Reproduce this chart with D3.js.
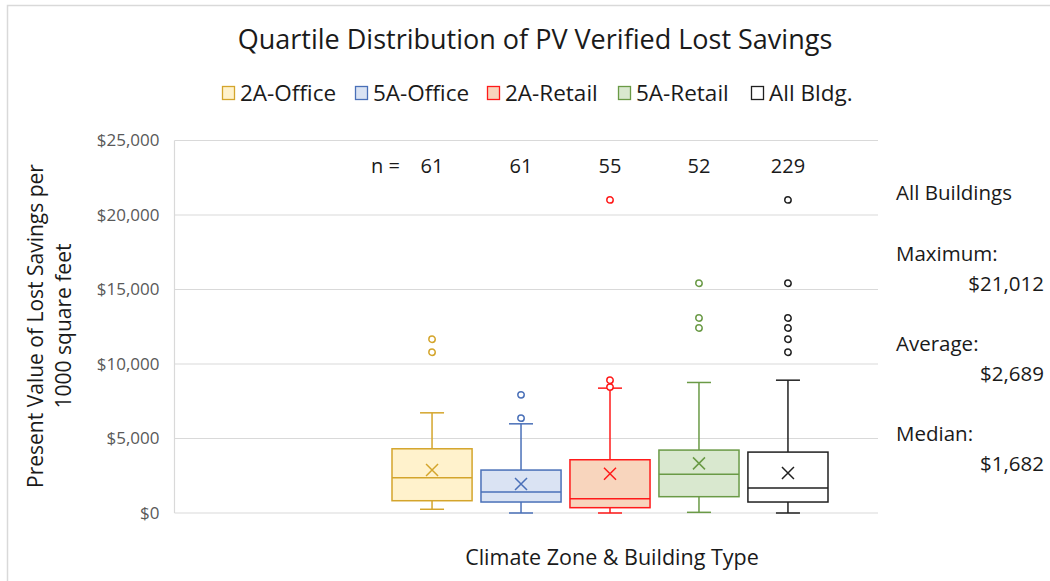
<!DOCTYPE html>
<html>
<head>
<meta charset="utf-8">
<script src="https://cdn.jsdelivr.net/npm/d3@7"></script>
<style>
  body { margin: 0; background: #fff; }
  svg { display: block; font-family: "Open Sans", Lato, sans-serif; }
</style>
</head>
<body>
<div id="chart"></div>
<script>
// series (one box per climate zone & building type)
const series = ['2A-Office', '5A-Office', '2A-Retail', '5A-Retail', 'All Bldg.'];
const counts = [61, 61, 55, 52, 229];
// box stats
const whiskerLow = [250, 0, 0, 45, 0];
const q1 = [824, 737, 357, 1095, 737];
const median = [2366, 1408, 960, 2594, 1682];
const q3 = [4310, 2882, 3574, 4223, 4088];
const whiskerHigh = [6723, 5985, 8380, 8760, 8914];
const means = [2882, 1944, 2637, 3331, 2689];
const outliers = [
  [11662, 10790],
  [7930, 6367],
  [21012, 8914, 8450],
  [15416, 13091, 12420],
  [21012, 15416, 13091, 12420, 11662, 10790]
];
const strokeColors = ['#d4a52c', '#4a70b8', '#ff1a1a', '#6a9a46', '#202020'];
const fillColors = ['#fff2cc', '#dae3f3', '#f8d5bd', '#d9e8cf', '#ffffff'];
const yTicks = [0, 5000, 10000, 15000, 20000, 25000];
const summaryLabels = ['Maximum:', 'Average:', 'Median:'];
const summaryValues = [21012, 2689, 1682];

const width = 1050, height = 581;
const svg = d3.select('#chart').append('svg')
  .attr('width', width)
  .attr('height', height);

// outer chart border
svg.append('rect')
  .attr('x', 7.5).attr('y', 5.5)
  .attr('width', 1100).attr('height', 700)
  .attr('fill', 'none').attr('stroke', '#d9d9d9').attr('stroke-width', 1.5);

const plot = {left: 174.5, right: 878, top: 140.5, bottom: 513};

const y = d3.scaleLinear().domain([0, 25000]).range([plot.bottom, plot.top]);
const x = d3.scaleBand().domain(series).range([392, 828]).paddingInner(0.1).paddingOuter(0);
const money = d3.format('$,');

// gridlines
svg.append('g')
  .selectAll('line')
  .data(yTicks)
  .join('line')
  .attr('x1', plot.left).attr('x2', plot.right)
  .attr('y1', d => y(d)).attr('y2', d => y(d))
  .attr('stroke', '#d9d9d9').attr('stroke-width', 1.2);

// left axis line
svg.append('line')
  .attr('x1', plot.left).attr('x2', plot.left)
  .attr('y1', plot.top).attr('y2', plot.bottom)
  .attr('stroke', '#d9d9d9').attr('stroke-width', 1.2);

// y tick labels
const yAxis = svg.append('g')
  .attr('transform', `translate(${plot.left},0)`)
  .call(d3.axisLeft(y).tickValues(yTicks).tickFormat(money).tickSize(0).tickPadding(15));
yAxis.select('.domain').remove();
yAxis.selectAll('text')
  .attr('font-size', 17).attr('fill', '#595959')
  .attr('font-family', '"Open Sans", sans-serif');

// title
svg.append('text')
  .attr('x', 535).attr('y', 49)
  .attr('text-anchor', 'middle')
  .attr('font-size', 27).attr('fill', '#1a1a1a')
  .text('Quartile Distribution of PV Verified Lost Savings');

// legend
const legendX = [222, 355, 487, 618, 751];
const legend = svg.append('g').selectAll('g')
  .data(series)
  .join('g')
  .attr('transform', (d, i) => `translate(${legendX[i]},86)`);
legend.append('rect')
  .attr('x', 0.5).attr('y', 0.5).attr('width', 12).attr('height', 13)
  .attr('fill', (d, i) => fillColors[i])
  .attr('stroke', (d, i) => strokeColors[i]).attr('stroke-width', 1.3);
legend.append('text')
  .attr('x', 18).attr('y', 15)
  .attr('font-size', 22.5).attr('fill', '#1a1a1a')
  .text(d => d);

// n = labels
svg.append('text')
  .attr('x', 371).attr('y', 173)
  .attr('font-size', 20).attr('fill', '#1a1a1a')
  .text('n =');
svg.append('g').selectAll('text')
  .data(counts)
  .join('text')
  .attr('x', (d, i) => x(series[i]) + x.bandwidth() / 2)
  .attr('y', 173)
  .attr('text-anchor', 'middle')
  .attr('font-size', 20).attr('fill', '#1a1a1a')
  .text(d => d);

// boxes
const bw = x.bandwidth();
const capW = bw * 0.3;
const boxes = svg.append('g').selectAll('g')
  .data(series)
  .join('g')
  .attr('transform', d => `translate(${x(d) + bw / 2},0)`);

boxes.each(function(d, i) {
  const g = d3.select(this);
  const c = strokeColors[i];
  // whiskers
  g.append('line')
    .attr('x1', 0).attr('x2', 0)
    .attr('y1', y(q3[i])).attr('y2', y(whiskerHigh[i]))
    .attr('stroke', c).attr('stroke-width', 1.5);
  g.append('line')
    .attr('x1', 0).attr('x2', 0)
    .attr('y1', y(q1[i])).attr('y2', y(whiskerLow[i]))
    .attr('stroke', c).attr('stroke-width', 1.5);
  g.selectAll('line.cap')
    .data([whiskerHigh[i], whiskerLow[i]])
    .join('line')
    .attr('class', 'cap')
    .attr('x1', -capW / 2).attr('x2', capW / 2)
    .attr('y1', v => y(v)).attr('y2', v => y(v))
    .attr('stroke', c).attr('stroke-width', 1.5);
  // box
  g.append('rect')
    .attr('x', -bw / 2).attr('width', bw)
    .attr('y', y(q3[i])).attr('height', y(q1[i]) - y(q3[i]))
    .attr('fill', fillColors[i])
    .attr('stroke', c).attr('stroke-width', 1.5);
  // median
  g.append('line')
    .attr('x1', -bw / 2).attr('x2', bw / 2)
    .attr('y1', y(median[i])).attr('y2', y(median[i]))
    .attr('stroke', c).attr('stroke-width', 1.5);
  // mean marker
  const m = y(means[i]), s = 6;
  g.append('path')
    .attr('d', `M${-s},${m - s}L${s},${m + s}M${s},${m - s}L${-s},${m + s}`)
    .attr('stroke', c).attr('stroke-width', 1.5).attr('fill', 'none');
  // outliers
  g.selectAll('circle')
    .data(outliers[i])
    .join('circle')
    .attr('cx', 0).attr('cy', v => y(v))
    .attr('r', 3.2)
    .attr('fill', '#fff')
    .attr('stroke', c).attr('stroke-width', 1.5);
});

// y axis title
const yTitle = svg.append('text')
  .attr('transform', 'translate(43,326) rotate(-90)')
  .attr('text-anchor', 'middle')
  .attr('font-size', 21).attr('fill', '#1a1a1a');
yTitle.append('tspan').attr('x', 0).attr('dy', 0).text('Present Value of Lost Savings per');
yTitle.append('tspan').attr('x', 0).attr('dy', 28).text('1000 square feet');

// x axis title
svg.append('text')
  .attr('x', 612).attr('y', 565)
  .attr('text-anchor', 'middle')
  .attr('font-size', 21.5).attr('fill', '#1a1a1a')
  .text('Climate Zone & Building Type');

// summary text on the right
svg.append('text')
  .attr('x', 896).attr('y', 200)
  .attr('font-size', 20.5).attr('fill', '#1a1a1a')
  .text('All Buildings');
const summary = svg.append('g').selectAll('g')
  .data(summaryLabels)
  .join('g')
  .attr('transform', (d, i) => `translate(0,${261 + i * 90})`);
summary.append('text')
  .attr('x', 896).attr('y', 0)
  .attr('font-size', 20.5).attr('fill', '#1a1a1a')
  .text(d => d);
summary.append('text')
  .attr('x', 1044).attr('y', 30)
  .attr('text-anchor', 'end')
  .attr('font-size', 20.5).attr('fill', '#1a1a1a')
  .text((d, i) => money(summaryValues[i]));
</script>
</body>
</html>
